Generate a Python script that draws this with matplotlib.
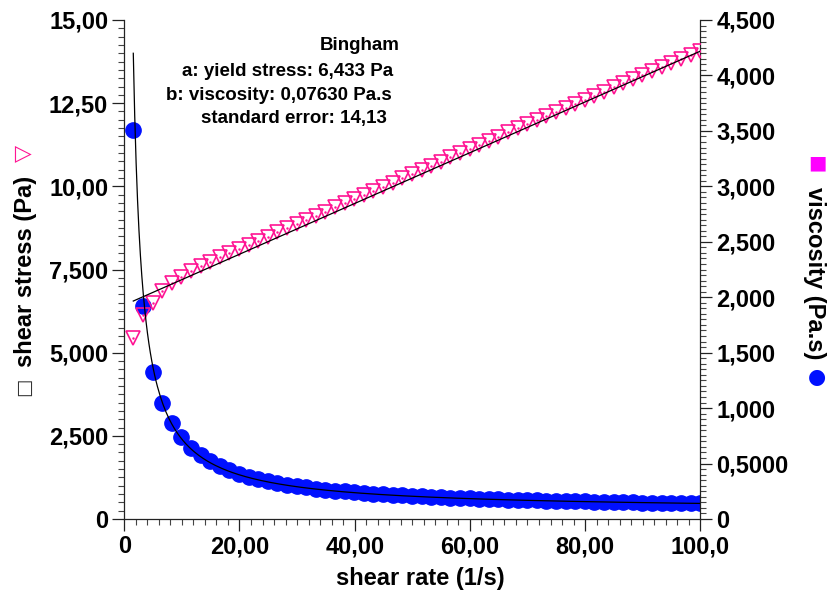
import numpy as np
import matplotlib
matplotlib.use("Agg")
import matplotlib.pyplot as plt
from matplotlib.ticker import MultipleLocator

plt.rcParams['font.family'] = ['Liberation Sans', 'DejaVu Sans']
plt.rcParams['font.weight'] = 'bold'

# flow curve: shear rate (1/s), shear stress (Pa), viscosity (Pa.s)
shear_rate = [1.56, 3.23, 4.90, 6.56, 8.23, 9.90, 11.57, 13.24, 14.90, 16.57,
              18.24, 19.91, 21.58, 23.24, 24.91, 26.58, 28.25, 29.92, 31.58, 33.25,
              34.92, 36.59, 38.26, 39.92, 41.59, 43.26, 44.93, 46.60, 48.26, 49.93,
              51.60, 53.27, 54.94, 56.60, 58.27, 59.94, 61.61, 63.28, 64.94, 66.61,
              68.28, 69.95, 71.62, 73.28, 74.95, 76.62, 78.29, 79.96, 81.62, 83.29,
              84.96, 86.63, 88.30, 89.96, 91.63, 93.30, 94.97, 96.64, 98.30, 99.97]
shear_stress = [5.44, 6.12, 6.50, 6.86, 7.10, 7.28, 7.44, 7.60, 7.74, 7.87,
                8.00, 8.12, 8.25, 8.37, 8.49, 8.62, 8.75, 8.87, 8.99, 9.12,
                9.24, 9.37, 9.49, 9.62, 9.74, 9.87, 9.99, 10.11, 10.24, 10.37,
                10.49, 10.62, 10.74, 10.87, 10.99, 11.12, 11.24, 11.37, 11.49, 11.62,
                11.74, 11.86, 11.99, 12.11, 12.24, 12.36, 12.48, 12.61, 12.73, 12.85,
                12.98, 13.10, 13.22, 13.34, 13.47, 13.59, 13.71, 13.83, 13.95, 14.06]
viscosity = [3.51, 1.92, 1.33, 1.046, 0.863, 0.735, 0.643, 0.574, 0.519, 0.475,
             0.439, 0.408, 0.382, 0.360, 0.341, 0.324, 0.310, 0.296, 0.285, 0.274,
             0.265, 0.256, 0.248, 0.241, 0.234, 0.228, 0.222, 0.217, 0.212, 0.208,
             0.203, 0.199, 0.195, 0.192, 0.189, 0.186, 0.182, 0.180, 0.177, 0.174,
             0.172, 0.170, 0.167, 0.165, 0.163, 0.161, 0.159, 0.158, 0.156, 0.154,
             0.153, 0.151, 0.150, 0.148, 0.147, 0.146, 0.144, 0.143, 0.142, 0.141]

# Bingham model parameters
yield_stress = 6.433
bingham_visc = 0.07630
std_error = "14,13"

x_ticks = [0, 20, 40, 60, 80, 100]
x_labels = ["0", "20,00", "40,00", "60,00", "80,00", "100,0"]
left_ticks = [0, 2.5, 5, 7.5, 10, 12.5, 15]
left_labels = ["0", "2,500", "5,000", "7,500", "10,00", "12,50", "15,00"]
right_ticks = [0, 0.5, 1, 1.5, 2, 2.5, 3, 3.5, 4, 4.5]
right_labels = ["0", "0,5000", "1,000", "1,500", "2,000", "2,500", "3,000",
                "3,500", "4,000", "4,500"]

W, H = 828, 594
fig = plt.figure(figsize=(W / 100, H / 100), dpi=100)
ax = fig.add_axes([124.3 / W, 1 - 519 / H, (700.3 - 124.3) / W, (519 - 20) / H])
ax2 = ax.twinx()

pink = '#ff1493'
blue = '#0010ff'

# fitted curves
gx = np.linspace(shear_rate[0], shear_rate[-1], 400)
fit_stress = yield_stress + bingham_visc * gx
fit_visc = yield_stress / gx + bingham_visc

ax2.plot(shear_rate, viscosity, 'o', color=blue, markersize=11, zorder=2)
ax2.plot(shear_rate, shear_stress, 'v', mfc='none', mec=pink, mew=1.2,
         markersize=10.5, transform=ax.transData, zorder=3)
ax2.plot(shear_rate, shear_stress, '.', color=pink, markersize=1.5,
         transform=ax.transData, zorder=3)
ax2.plot(gx, fit_visc, color='black', lw=0.9, zorder=4)
ax2.plot(gx, fit_stress, color='black', lw=0.9, transform=ax.transData, zorder=4)

ax.set_xlim(0, 100)
ax.set_ylim(0, 15)
ax2.set_ylim(0, 4.5)

ax.set_xticks(x_ticks, x_labels)
ax.set_yticks(left_ticks, left_labels)
ax2.set_yticks(right_ticks, right_labels)
ax.xaxis.set_minor_locator(MultipleLocator(2))
ax.yaxis.set_minor_locator(MultipleLocator(0.25))
ax2.yaxis.set_minor_locator(MultipleLocator(0.05))

for a in (ax, ax2):
    a.spines['top'].set_visible(False)
    a.tick_params(which='major', length=8.6, width=0.9, color='#222222',
                  labelsize=17, pad=3)
    a.tick_params(which='minor', length=4.3, width=0.8, color='#444444')
    for s in a.spines.values():
        s.set_linewidth(0.9)
        s.set_color('#222222')
ax.spines['right'].set_visible(False)
ax2.spines['left'].set_visible(False)
ax2.spines['bottom'].set_visible(False)


def px(x, y):
    return x / W, 1 - y / H


sym = dict(ha='center', va='center', family='DejaVu Sans', fontweight='normal')

# axis titles
fig.text(*px(420, 578), "shear rate (1/s)", ha='center', va='center',
         fontsize=17, fontweight='bold')
fig.text(*px(26, 271), "shear stress (Pa)", ha='center', va='center',
         rotation=90, fontsize=17, fontweight='bold')
fig.text(*px(24, 387), "\u25a1", rotation=90, fontsize=14, color='#333333', **sym)
fig.text(*px(23, 153), "\u25bd", rotation=90, fontsize=16, color=pink, **sym)
fig.text(*px(815, 273), "viscosity (Pa.s)", ha='center', va='center',
         rotation=-90, fontsize=17, fontweight='bold')
fig.text(*px(817, 163), "\u25a0", fontsize=14, color='#ff00ff', **sym)
fig.text(*px(817, 377), "\u25cf", fontsize=15, color=blue, **sym)

# model summary
fig.text(*px(400, 46), "Bingham", ha='right', va='center', fontsize=13.5,
         fontweight='bold')
fig.text(*px(393, 71), "a: yield stress: 6,433 Pa", ha='right', va='center',
         fontsize=13.5, fontweight='bold')
fig.text(*px(392, 95), "b: viscosity: 0,07630 Pa.s", ha='right', va='center',
         fontsize=13.5, fontweight='bold')
fig.text(*px(387, 118), "standard error: " + std_error, ha='right', va='center',
         fontsize=13.5, fontweight='bold')

fig.savefig("out.png", dpi=100)
